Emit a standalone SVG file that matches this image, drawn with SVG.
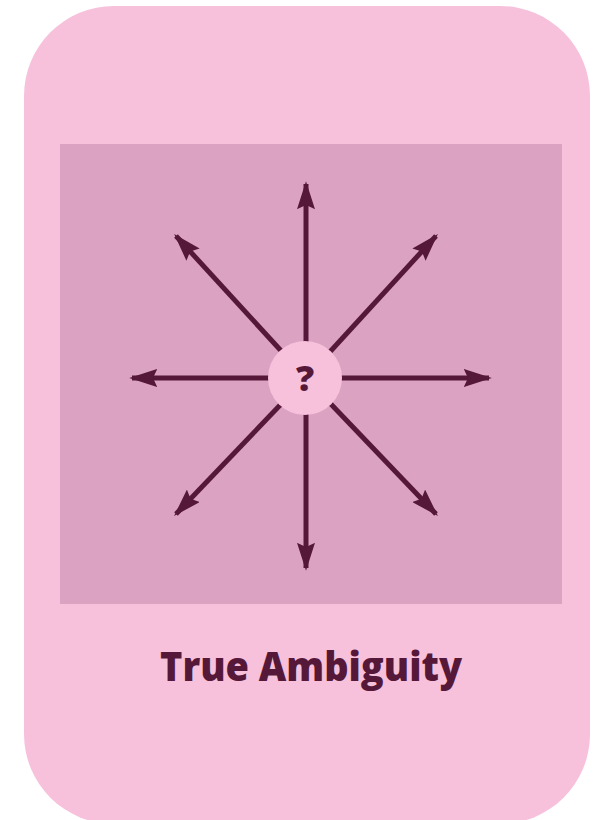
<svg xmlns="http://www.w3.org/2000/svg" width="603" height="820" viewBox="0 0 603 820">
<style>
.arrow{stroke:#561839;stroke-width:5;fill:none;marker-end:url(#ah)}
.lbl{font-family:"Open Sans","Liberation Sans",sans-serif;font-weight:800;fill:#561839}
</style>
<defs>
<marker id="ah" viewBox="0 0 10 10" refX="9" refY="5" markerWidth="5.6" markerHeight="3.6" orient="auto" markerUnits="strokeWidth" preserveAspectRatio="none">
<path d="M0,0 L10,5 L0,10 L1.5,5 Z" fill="#561839"/>
</marker>
</defs>
<g id="card">
<rect x="24" y="6" width="566" height="818" rx="90" ry="90" fill="#F7C1DC"/>
<rect x="60" y="144" width="502" height="460" fill="#DBA3C1"/>
</g>
<g id="connectors">
<line class="arrow" x1="306" y1="378" x2="306" y2="184"/>
<line class="arrow" x1="306" y1="378" x2="306" y2="568"/>
<line class="arrow" x1="306" y1="378" x2="132" y2="378"/>
<line class="arrow" x1="306" y1="378" x2="489" y2="378"/>
<line class="arrow" x1="306" y1="378" x2="176" y2="236"/>
<line class="arrow" x1="306" y1="378" x2="436" y2="236"/>
<line class="arrow" x1="306" y1="378" x2="176" y2="514"/>
<line class="arrow" x1="306" y1="378" x2="436" y2="514"/>
</g>
<g id="center">
<circle cx="305" cy="378" r="37" fill="#F7C1DC"/>
<text class="lbl" x="305" y="391" font-size="36" text-anchor="middle">?</text>
</g>
<g id="title">
<text class="lbl" x="311" y="681" font-size="40" text-anchor="middle" textLength="302" lengthAdjust="spacingAndGlyphs">True Ambiguity</text>
</g>
</svg>
